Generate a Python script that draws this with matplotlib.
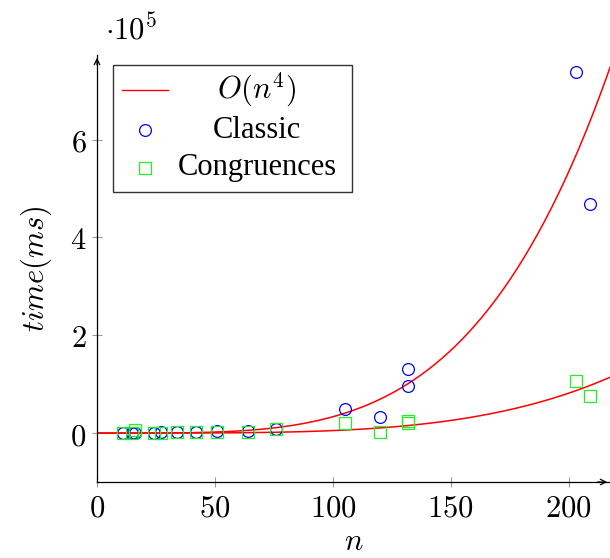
import numpy as np
import matplotlib
matplotlib.use("Agg")
import matplotlib.pyplot as plt
from matplotlib.lines import Line2D
from matplotlib.patches import Rectangle

plt.rcParams['mathtext.fontset'] = 'cm'
plt.rcParams['font.family'] = ['DejaVu Serif']

# data (time in ms)
classic_n = [11, 15, 16, 24, 27, 34, 42, 51, 64, 76, 105, 120, 132, 132, 203, 209]
classic_t = [800, 900, 1000, 1200, 1400, 1500, 1800, 3500, 3500, 8000,
             49000, 33000, 131000, 96000, 739000, 469000]

cong_n = [11, 15, 16, 24, 27, 34, 42, 51, 64, 76, 105, 120, 132, 132, 203, 209]
cong_t = [800, 900, 6000, 1000, 1200, 1300, 1500, 2500, 2500, 8000,
          20000, 2000, 24000, 21000, 106000, 76000]

# O(n^4) fits
coef_classic = 3.34e-4
coef_cong = 5.1e-5

W, H = 610, 558
fig = plt.figure(figsize=(W / 100, H / 100), dpi=100)
ax = fig.add_axes([97 / W, (H - 482) / H, (W - 97) / W, (482 - 55) / H])

xmax, ymin, ymax = 217.5, -1.0e5, 7.73e5
nn = np.linspace(0, xmax, 300)
ax.plot(nn, coef_classic * nn ** 4, color='red', lw=1.1, zorder=2)
ax.plot(nn, coef_cong * nn ** 4, color='red', lw=1.1, zorder=2)
ax.plot(classic_n, classic_t, 'o', ms=8.5, mfc='none', mec='blue', mew=0.9, zorder=3)
ax.plot(cong_n, cong_t, 's', ms=8, mfc='none', mec='#22ee22', mew=0.9, zorder=3)

ax.set_xlim(0, xmax)
ax.set_ylim(ymin, ymax)
for s in ['top', 'right']:
    ax.spines[s].set_visible(False)
for s in ['left', 'bottom']:
    ax.spines[s].set_linewidth(0.9)

ax.set_xticks([0, 50, 100, 150, 200])
ax.set_xticklabels([r'$%d$' % v for v in [0, 50, 100, 150, 200]])
ax.set_yticks([0, 2e5, 4e5, 6e5])
ax.set_yticklabels([r'$%d$' % v for v in [0, 2, 4, 6]])
ax.tick_params(direction='inout', length=7, width=0.8, color='#999999',
               labelsize=22, pad=4)

# axis arrows
ax.annotate('', xy=(1.0, 0), xytext=(0.97, 0), xycoords='axes fraction',
            arrowprops=dict(arrowstyle='->', lw=0.9, color='black'))
ax.annotate('', xy=(0, 1.0), xytext=(0, 0.97), xycoords='axes fraction',
            arrowprops=dict(arrowstyle='->', lw=0.9, color='black'))

ax.set_xlabel(r'$n$', fontsize=22, labelpad=2)
ax.set_ylabel(r'$time(ms)$', fontsize=22, labelpad=12)
fig.text(105 / W, 1 - 30 / H, r'$\cdot 10^5$', fontsize=22, va='center')


def fx(px):
    return px / W


def fy(py):
    return 1 - py / H


# legend drawn by hand so the labels are centred like in the reference
fig.patches.append(Rectangle((fx(113), fy(192)), fx(352) - fx(113), fy(65) - fy(192),
                             transform=fig.transFigure, fill=True, fc='white',
                             ec='#333333', lw=1.0, zorder=5))
fig.lines.append(Line2D([fx(122), fx(168)], [fy(90), fy(90)], color='red', lw=1.0,
                        transform=fig.transFigure, zorder=6))
fig.lines.append(Line2D([fx(145)], [fy(130)], marker='o', ms=8.5, mfc='none', mec='blue',
                        mew=0.9, transform=fig.transFigure, zorder=6))
fig.lines.append(Line2D([fx(145)], [fy(168)], marker='s', ms=8, mfc='none', mec='#22ee22',
                        mew=0.9, transform=fig.transFigure, zorder=6))
fig.text(fx(257), fy(90), r'$O(n^4)$', fontsize=22, ha='center', va='center', zorder=7)
fig.text(fx(257), fy(130), 'Classic', fontsize=22, ha='center', va='center',
         family='Liberation Serif', zorder=7)
fig.text(fx(257), fy(168), 'Congruences', fontsize=22, ha='center', va='center',
         family='Liberation Serif', zorder=7)

fig.savefig('out.png', dpi=100)
